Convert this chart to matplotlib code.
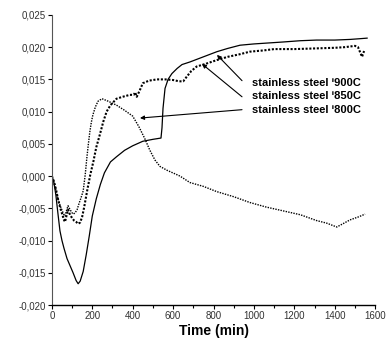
import numpy as np
import matplotlib
matplotlib.use("Agg")
import matplotlib.pyplot as plt
from matplotlib.ticker import FuncFormatter, MultipleLocator

plt.rcParams['font.family'] = ['Liberation Sans', 'DejaVu Sans']

# stainless steel 900C (thin solid)
t900 = [0, 10, 20, 30, 40, 50, 60, 75, 90, 105, 120, 130, 140, 155, 170, 185, 200, 220, 240, 260,
        290, 320, 360, 400, 450, 500, 540, 545, 550, 560, 575, 594, 620, 644, 683, 750, 817, 870,
        931, 1000, 1144, 1230, 1310, 1400, 1476, 1520, 1560]
v900 = [0, -0.001, -0.003, -0.0058, -0.0085, -0.0100, -0.0112, -0.0128, -0.0139, -0.0150, -0.0162,
        -0.0167, -0.0163, -0.0148, -0.0122, -0.0093, -0.0062, -0.0035, -0.0013, 0.0005, 0.0022,
        0.0030, 0.0040, 0.0047, 0.0054, 0.0057, 0.0059, 0.0075, 0.0105, 0.0136, 0.0150, 0.0159,
        0.0167, 0.0173, 0.0177, 0.0185, 0.0193, 0.0198, 0.0203, 0.0205, 0.0208, 0.0210, 0.0211,
        0.0211, 0.0212, 0.0213, 0.0214]

# stainless steel 850C (heavy dotted)
t850 = [0, 10, 20, 30, 40, 50, 60, 65, 72, 80, 90, 100, 110, 120, 130, 140, 150, 160, 175, 190,
        205, 220, 238, 255, 271, 290, 320, 350, 386, 405, 412, 420, 435, 450, 480, 520, 560, 600,
        630, 650, 667, 690, 717, 760, 817, 870, 930, 980, 1050, 1100, 1200, 1300, 1400, 1450, 1500,
        1515, 1535, 1545]
v850 = [0, -0.0008, -0.002, -0.0035, -0.0048, -0.0058, -0.0068, -0.0071, -0.0062, -0.0052, -0.0060,
        -0.0065, -0.0069, -0.0071, -0.0074, -0.0072, -0.0063, -0.0048, -0.0022, 0.0002, 0.0022,
        0.0045, 0.0065, 0.0085, 0.0100, 0.0110, 0.0120, 0.0123, 0.0126, 0.0126, 0.0130, 0.0123,
        0.0133, 0.0144, 0.0148, 0.0150, 0.0150, 0.0149, 0.0147, 0.0147, 0.0154, 0.0163, 0.0170,
        0.0174, 0.0180, 0.0185, 0.0189, 0.0193, 0.0195, 0.0197, 0.0197, 0.0198, 0.0199, 0.0200,
        0.0202, 0.0200, 0.0185, 0.0194]

# stainless steel 800C (thin dotted)
t800 = [0, 10, 20, 30, 40, 50, 60, 65, 72, 80, 90, 100, 106, 115, 125, 135, 145, 155, 165, 173,
        180, 188, 195, 203, 215, 228, 248, 280, 320, 360, 400, 430, 460, 485, 510, 535, 570, 634,
        683, 750, 815, 900, 980, 1060, 1145, 1230, 1310, 1360, 1410, 1440, 1475, 1520, 1550]
v800 = [0, -0.001, -0.0022, -0.0035, -0.0045, -0.0053, -0.0060, -0.0062, -0.0054, -0.0046, -0.0052,
        -0.0057, -0.0059, -0.0057, -0.0052, -0.0042, -0.0033, -0.0023, 0.0002, 0.0028, 0.0048,
        0.0069, 0.0083, 0.0095, 0.0107, 0.0116, 0.0120, 0.0116, 0.0110, 0.0102, 0.0093, 0.0077,
        0.0058, 0.0040, 0.0025, 0.0015, 0.0009, 0.0000, -0.0010, -0.0016, -0.0024, -0.0032,
        -0.0041, -0.0048, -0.0054, -0.0060, -0.0069, -0.0073, -0.0079, -0.0074, -0.0068, -0.0063,
        -0.0059]

labels = ["stainless steel \u2071900C", "stainless steel \u2071850C", "stainless steel \u2071800C"]
label_y = [0.0144, 0.0124, 0.0102]
arrow_start = [(941, 0.0148), (941, 0.0123), (941, 0.0103)]
arrow_tips = [(817, 0.0188), (743, 0.0174), (436, 0.0090)]

fig = plt.figure(figsize=(3.9, 3.47), dpi=100)
ax = fig.add_axes([0.133, 0.121, 0.829, 0.836])

ax.plot(t900, v900, color='black', lw=0.9)
ax.plot(t850, v850, color='black', lw=1.5, linestyle=(0, (1, 0.8)))
ax.plot(t800, v800, color='black', lw=1.0, linestyle=(0, (1, 0.9)))

ax.set_xlim(0, 1600)
ax.set_ylim(-0.020, 0.025)
ax.xaxis.set_major_locator(MultipleLocator(200))
ax.xaxis.set_minor_locator(MultipleLocator(100))
ax.yaxis.set_major_locator(MultipleLocator(0.005))
ax.yaxis.set_major_formatter(FuncFormatter(lambda v, p: f"{v:.3f}".replace('.', ',').replace('-0,000', '0,000')))

for s in ['top', 'right']:
    ax.spines[s].set_visible(False)
ax.spines['left'].set_color('#555555')
ax.spines['bottom'].set_linewidth(1.0)
ax.tick_params(axis='both', which='major', labelsize=7, length=3, width=0.8, direction='out',
               colors='black', labelcolor='#333333', pad=1.5)
ax.tick_params(axis='x', which='minor', length=2, width=0.8, direction='out')

ax.set_xlabel('Time (min)', fontsize=10, fontweight='bold', labelpad=2)

for lab, ly, st, tip in zip(labels, label_y, arrow_start, arrow_tips):
    ax.text(990, ly, lab, fontsize=8, fontweight='bold', va='center', ha='left')
    ax.annotate('', xy=tip, xytext=st,
                arrowprops=dict(arrowstyle='-|>', color='black', lw=0.8, mutation_scale=6,
                                shrinkA=0, shrinkB=0))

fig.savefig('out.png', dpi=100)
